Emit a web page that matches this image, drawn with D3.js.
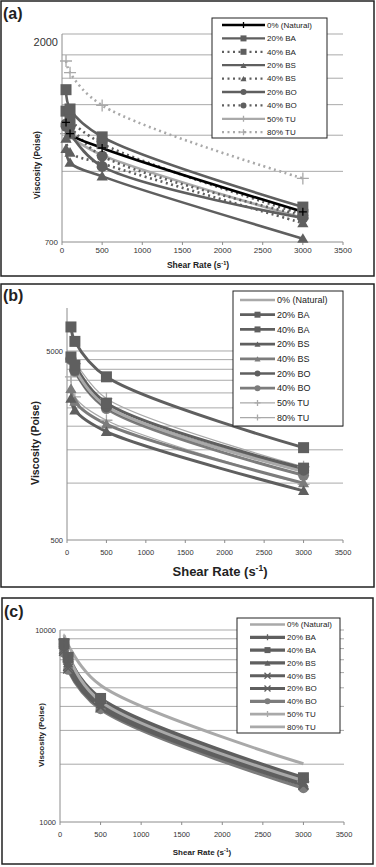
<!DOCTYPE html>
<meta charset="utf-8">
<style>
body { margin: 0; background: #fff; }
svg { display: block; font-family: Arial, "Liberation Sans", sans-serif; }
.frame { fill: none; stroke: #222; stroke-width: 1.5px; }
.grid line { stroke: #a9a9a9; stroke-width: 1px; }
.axis line { stroke: #8c8c8c; stroke-width: 1px; }
.tick text { fill: #333; }
.legend rect { fill: #fff; stroke: #222; stroke-width: 1px; }
.title { font-weight: bold; fill: #222; }
</style>
<body>
<script src="https://cdn.jsdelivr.net/npm/d3@7"></script>
<script>

var shearRates = [50, 100, 500, 3000];
var seriesNames = ["0% (Natural)", "20% BA", "40% BA", "20% BS", "40% BS",
                   "20% BO", "40% BO", "50% TU", "80% TU"];

// viscosity (Poise) per series, same order as seriesNames
var viscA = [
  [1280, 1210, 1125, 815],
  [1510, 1370, 1190, 835],
  [1355, 1300, 1150, 805],
  [1120, 1045, 975, 712],
  [1180, 1100, 1040, 770],
  [1255, 1210, 1025, 790],
  [1270, 1250, 1080, 800],
  [1210, 1190, 1085, 790],
  [1745, 1645, 1395, 965]
];
var viscB = [
  [4400, 4000, 2550, 1150],
  [4650, 4200, 2650, 1200],
  [6700, 5620, 3650, 1540],
  [2800, 2430, 1870, 910],
  [3160, 2700, 2050, 1000],
  [4550, 3950, 2530, 1170],
  [4500, 3900, 2480, 1100],
  [4370, 4290, 2800, 1220],
  [3650, 2860, 2150, 985]
];
var viscC = [
  [8700, 7300, 4250, 1640],
  [8600, 7100, 4300, 1680],
  [8500, 7200, 4400, 1700],
  [8200, 6700, 4100, 1600],
  [7800, 6300, 3950, 1560],
  [8000, 6500, 4000, 1580],
  [7600, 6200, 3870, 1500],
  [8900, 7500, 4200, 1620],
  [9400, 8350, 5150, 2010]
];

var xTicks = [0, 500, 1000, 1500, 2000, 2500, 3000, 3500];
var gridA = [1000, 1200, 1400, 1600, 1800, 2000];
var gridB = [1000, 1500, 2000, 2500, 3000, 3500, 4000, 4500, 5000];
var gridC = [2000, 3000, 4000, 5000, 6000, 7000, 8000, 9000, 10000];
var yLabelsA = [700, 2000];
var yLabelsB = [500, 5000];
var yLabelsC = [1000, 10000];

var dark = "#5f5f5f", mid = "#7c7c7c", light = "#a9a9a9";

var stylesA = [
  {c: "#000", w: 2.6, dot: false, m: "plus", ms: 4},
  {c: dark, w: 2.6, dot: false, m: "square", ms: 11},
  {c: dark, w: 2.6, dot: true, m: "square", ms: 11},
  {c: dark, w: 2.6, dot: false, m: "triangle", ms: 11},
  {c: dark, w: 2.6, dot: true, m: "triangle", ms: 11},
  {c: dark, w: 2.6, dot: false, m: "circle", ms: 11},
  {c: dark, w: 2.6, dot: true, m: "circle", ms: 11},
  {c: light, w: 2.6, dot: false, m: "plus", ms: 6},
  {c: light, w: 2.6, dot: true, m: "plus", ms: 6}
];
var stylesB = [
  {c: light, w: 3, dot: false, m: null},
  {c: dark, w: 3, dot: false, m: "square", ms: 11},
  {c: dark, w: 3, dot: false, m: "square", ms: 11},
  {c: dark, w: 3, dot: false, m: "triangle", ms: 11},
  {c: mid, w: 3, dot: false, m: "triangle", ms: 11},
  {c: dark, w: 3, dot: false, m: "circle", ms: 11},
  {c: mid, w: 3, dot: false, m: "circle", ms: 11},
  {c: light, w: 1.2, dot: false, m: "plus", ms: 6},
  {c: light, w: 1.2, dot: false, m: "plus", ms: 6}
];
var stylesC = [
  {c: light, w: 3, dot: false, m: null},
  {c: dark, w: 3.5, dot: false, m: "plus", ms: 5},
  {c: dark, w: 3.5, dot: false, m: "square", ms: 11},
  {c: dark, w: 3.5, dot: false, m: "triangle", ms: 10},
  {c: dark, w: 3.5, dot: false, m: "x", ms: 5},
  {c: dark, w: 3.5, dot: false, m: "x", ms: 5},
  {c: mid, w: 3.5, dot: false, m: "circle", ms: 10},
  {c: light, w: 3, dot: false, m: "plus", ms: 6},
  {c: light, w: 3, dot: false, m: null}
];

var svg = d3.select("body").append("svg")
    .attr("width", 376)
    .attr("height", 867);

function drawMarker(g, type, size, color, x, y) {
  if (!type) return;
  var p;
  if (type == "plus" || type == "x") {
    var s = size;
    p = type == "plus"
      ? "M" + (-s) + ",0H" + s + "M0," + (-s) + "V" + s
      : "M" + (-s) + "," + (-s) + "L" + s + "," + s + "M" + (-s) + "," + s + "L" + s + "," + (-s);
    g.append("path").attr("d", p)
      .attr("transform", "translate(" + x + "," + y + ")")
      .attr("stroke", color).attr("stroke-width", 1.3).attr("fill", "none");
    return;
  }
  var sym = type == "square" ? d3.symbolSquare : type == "triangle" ? d3.symbolTriangle : d3.symbolCircle;
  var area = type == "square" ? size * size : type == "triangle" ? size * size * 0.45 : size * size * 0.78;
  g.append("path").attr("d", d3.symbol(sym, area)())
    .attr("transform", "translate(" + x + "," + (type == "triangle" ? y + 1 : y) + ")")
    .attr("fill", color);
}

function drawPanel(p) {
  var g = svg.append("g");

  g.append("rect").attr("class", "frame")
    .attr("x", p.box[0]).attr("y", p.box[1])
    .attr("width", p.box[2]).attr("height", p.box[3]);

  var x = d3.scaleLinear().domain([0, 3500]).range([p.x0, p.x1]);
  var y = d3.scaleLog().domain(p.yDomain).range([p.yBottom, p.yTop]);

  // gridlines
  g.append("g").attr("class", "grid")
    .selectAll("line").data(p.grid).enter().append("line")
      .attr("x1", p.x0).attr("x2", p.x1)
      .attr("y1", function(d) { return y(d); })
      .attr("y2", function(d) { return y(d); });

  // axes lines
  var ax = g.append("g").attr("class", "axis");
  ax.append("line").attr("x1", p.x0).attr("x2", p.x0).attr("y1", p.yTop).attr("y2", p.yBottom);
  ax.append("line").attr("x1", p.x0).attr("x2", p.x1).attr("y1", p.yBottom).attr("y2", p.yBottom);
  ax.selectAll(".xt").data(xTicks).enter().append("line")
    .attr("x1", function(d) { return x(d); }).attr("x2", function(d) { return x(d); })
    .attr("y1", p.yBottom).attr("y2", p.yBottom + 3);

  // tick labels
  g.append("g").attr("class", "tick")
    .selectAll("text").data(xTicks).enter().append("text")
      .attr("x", function(d) { return x(d); })
      .attr("y", p.yBottom + p.xTickDy)
      .attr("text-anchor", "middle")
      .style("font-size", p.tickFont + "px")
      .text(function(d) { return d; });
  g.append("g").attr("class", "tick")
    .selectAll("text").data(p.yLabels).enter().append("text")
      .attr("x", p.x0 - 4)
      .attr("y", function(d, i) { return y(d) + p.yLabelShift[i]; })
      .attr("dy", "0.35em")
      .attr("text-anchor", "end")
      .style("font-size", function(d, i) { return p.yTickFont[i] + "px"; })
      .text(function(d) { return d; });

  // series lines, smoothed like the spreadsheet
  var line = d3.line()
      .x(function(d, i) { return x(shearRates[i]); })
      .y(function(d) { return y(d); })
      .curve(d3.curveCatmullRom.alpha(0.5));

  var order = d3.range(p.data.length).reverse();
  order.forEach(function(k) {
    var st = p.styles[k];
    g.append("path")
      .datum(p.data[k])
      .attr("d", line)
      .attr("fill", "none")
      .attr("stroke", st.c)
      .attr("stroke-width", st.w)
      .attr("stroke-dasharray", st.dot ? "2,3.5" : null);
  });
  order.forEach(function(k) {
    var st = p.styles[k];
    p.data[k].forEach(function(v, i) {
      drawMarker(g, st.m, st.ms, st.c, x(shearRates[i]), y(v));
    });
  });

  // legend
  var lg = g.append("g").attr("class", "legend");
  lg.append("rect")
    .attr("x", p.legend.x).attr("y", p.legend.y)
    .attr("width", p.legend.w).attr("height", p.legend.h);
  seriesNames.forEach(function(name, k) {
    var st = p.styles[k];
    var ly = p.legend.first + k * p.legend.step;
    lg.append("line")
      .attr("x1", p.legend.lx0).attr("x2", p.legend.lx1)
      .attr("y1", ly).attr("y2", ly)
      .attr("stroke", st.c)
      .attr("stroke-width", Math.max(st.w * 0.9, 1.2))
      .attr("stroke-dasharray", st.dot ? "2,3.5" : null);
    drawMarker(lg, st.m, st.m == "plus" || st.m == "x" ? 3 : 6, st.c, (p.legend.lx0 + p.legend.lx1) / 2, ly);
    lg.append("text")
      .attr("x", p.legend.lx1 + 2).attr("y", ly).attr("dy", "0.35em")
      .style("font-size", p.legend.font + "px")
      .attr("fill", "#222")
      .text(name);
  });

  // titles
  g.append("text").attr("class", "title")
    .attr("x", p.box[0] + 2).attr("y", p.labelY)
    .style("font-size", "16px")
    .text(p.label);

  g.append("text").attr("class", "title")
    .attr("transform", "translate(" + p.yTitle[0] + "," + p.yTitle[1] + ") rotate(-90)")
    .attr("text-anchor", "middle")
    .style("font-size", p.yTitle[2] + "px")
    .text("Viscosity (Poise)");

  var xt = g.append("text").attr("class", "title")
    .attr("x", p.xTitle[0]).attr("y", p.xTitle[1])
    .attr("text-anchor", "middle")
    .style("font-size", p.xTitle[2] + "px");
  xt.append("tspan").text("Shear Rate (s");
  xt.append("tspan").attr("dy", -p.xTitle[2] * 0.4).style("font-size", (p.xTitle[2] * 0.65) + "px").text("-1");
  xt.append("tspan").attr("dy", p.xTitle[2] * 0.4).text(")");
}

drawPanel({
  label: "(a)", labelY: 19,
  box: [1, 1, 373, 275],
  x0: 62, x1: 343, yTop: 34, yBottom: 242,
  yDomain: [700, 2000], grid: gridA, yLabels: yLabelsA, yTickFont: [8, 11], yLabelShift: [0, 8],
  tickFont: 8, xTickDy: 11,
  data: viscA, styles: stylesA,
  legend: {x: 212, y: 18, w: 115, h: 120, first: 25, step: 13.4, lx0: 222, lx1: 265, font: 8},
  yTitle: [40, 165, 8.5], xTitle: [198, 268, 8.5]
});

drawPanel({
  label: "(b)", labelY: 301,
  box: [1, 284, 373, 303],
  x0: 67, x1: 343, yTop: 308, yBottom: 540,
  yDomain: [500, 8440], grid: gridB, yLabels: yLabelsB, yTickFont: [7.5, 7.5], yLabelShift: [0, 0],
  tickFont: 7.5, xTickDy: 15,
  data: viscB, styles: stylesB,
  legend: {x: 233, y: 291, w: 110, h: 135, first: 300, step: 14.7, lx0: 240, lx1: 275, font: 9},
  yTitle: [39, 443, 10.5], xTitle: [220, 576, 13]
});

drawPanel({
  label: "(c)", labelY: 617,
  box: [2, 598, 371, 266],
  x0: 60, x1: 344, yTop: 630, yBottom: 822,
  yDomain: [1000, 10000], grid: gridC, yLabels: yLabelsC, yTickFont: [7.5, 7.5], yLabelShift: [0, 0],
  tickFont: 7.5, xTickDy: 15,
  data: viscC, styles: stylesC,
  legend: {x: 237, y: 618, w: 103, h: 115, first: 624.5, step: 12.8, lx0: 250, lx1: 285, font: 8},
  yTitle: [44, 735, 8], xTitle: [202, 855, 8]
});

</script>
